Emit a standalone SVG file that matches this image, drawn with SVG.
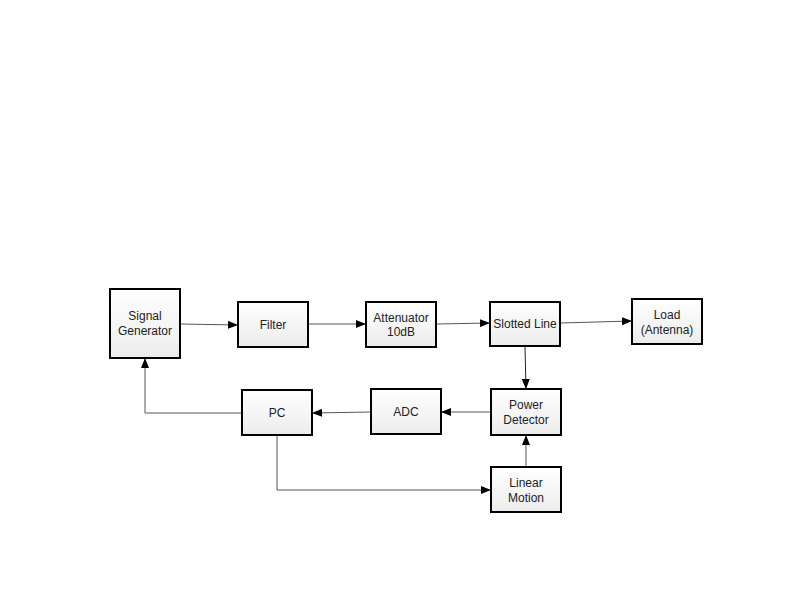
<svg xmlns="http://www.w3.org/2000/svg" width="800" height="600" viewBox="0 0 800 600">
<defs>
<linearGradient id="g" x1="0" y1="0" x2="0" y2="1">
<stop offset="0" stop-color="#ffffff"/>
<stop offset="1" stop-color="#ececec"/>
</linearGradient>
<marker id="a" viewBox="0 0 10 8" refX="10" refY="4" markerWidth="10" markerHeight="8" markerUnits="userSpaceOnUse" orient="auto">
<path d="M0,0 L10,4 L0,8 Z" fill="#000"/>
</marker>
<style>
.n rect{fill:url(#g);stroke:#000;stroke-width:2}
.n text{font-family:"Liberation Sans",Arial,sans-serif;font-size:12px;fill:#222;text-anchor:middle}
#edges path{fill:none;stroke:#555;stroke-width:1;marker-end:url(#a)}
</style>
</defs>
<rect width="800" height="600" fill="#fff"/>
<g id="edges">
<path d="M180,324 L238,325"/>
<path d="M308,324 L366,324"/>
<path d="M436,324 L490,323"/>
<path d="M560,323 L632,321"/>
<path d="M525,346 L526,389" style="stroke:#222"/>
<path d="M491,412 L441,412"/>
<path d="M371,412 L312,413"/>
<path d="M242,413 L145,413 L145,358"/>
<path d="M277,435 L277,490 L491,490"/>
<path d="M526,467 L526,435"/>
</g>
<g id="signal-generator" class="n"><rect x="110" y="289" width="70" height="69"/><text x="145" y="320">Signal</text><text x="145" y="335">Generator</text></g>
<g id="filter" class="n"><rect x="238" y="302" width="70" height="45"/><text x="273" y="329">Filter</text></g>
<g id="attenuator" class="n"><rect x="366" y="302" width="70" height="45"/><text x="401" y="322">Attenuator</text><text x="401" y="336">10dB</text></g>
<g id="slotted-line" class="n"><rect x="490" y="302" width="70" height="44"/><text x="525" y="328">Slotted Line</text></g>
<g id="load" class="n"><rect x="632" y="299" width="70" height="45"/><text x="667" y="319">Load</text><text x="667" y="334">(Antenna)</text></g>
<g id="power-detector" class="n"><rect x="491" y="389" width="70" height="46"/><text x="526" y="409">Power</text><text x="526" y="424">Detector</text></g>
<g id="adc" class="n"><rect x="371" y="389" width="70" height="45"/><text x="406" y="416">ADC</text></g>
<g id="pc" class="n"><rect x="242" y="390" width="70" height="45"/><text x="277" y="417">PC</text></g>
<g id="linear-motion" class="n"><rect x="491" y="467" width="70" height="45"/><text x="526" y="487">Linear</text><text x="526" y="502">Motion</text></g>
</svg>
